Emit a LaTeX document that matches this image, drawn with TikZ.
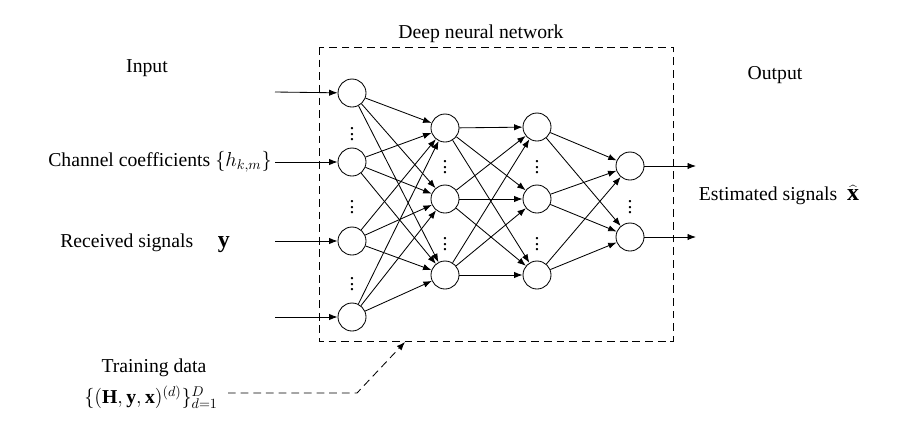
\documentclass[tikz,border=0pt]{standalone}
\usepackage{fontspec}
\setmainfont{Liberation Serif}
\usetikzlibrary{arrows.meta}

\tikzset{
  neuron/.style={circle,draw,minimum size=0.7cm,inner sep=0pt},
  dots/.style={inner sep=0pt},
  link/.style={draw,-{Latex[length=6pt,width=4.5pt]}},
  feed/.style={dash pattern=on 5.5pt off 3.5pt,-{Latex[length=6pt,width=4.5pt]}},
}

\begin{document}
\begin{tikzpicture}[x=0.025cm,y=-0.025cm,line width=0.6pt,
                    every node/.style={font=\fontsize{14}{17}\selectfont}]
    \useasboundingbox (0,0) rectangle (915,423);

    \node (input) at (147,68) {Input};
    \node (title) at (481,34) {Deep neural network};
    \node (output) at (775,75) {Output};
    \node (chan) at (160,162) {Channel coefficients $\{h_{k,m}\}$};
    \node (recv) at (145,243) {Received signals \quad{\fontsize{17}{20}\selectfont$\mathbf{y}$}};
    \node (est) at (779,195) {Estimated signals \ {\fontsize{17}{20}\selectfont$\widehat{\mathbf{x}}$}};
    \node (train) at (154,368) {Training data};
    \node (tset) at (151,397) {$\{(\mathbf{H},\mathbf{y},\mathbf{x})^{(d)}\}_{d=1}^{D}$};

    % network frame
    \draw [dash pattern=on 5.5pt off 3.5pt] (319,47) rectangle (673,341);

\begin{scope}[every node/.style={neuron}]
    \node (a1) at (352,93) {};
    \node (a2) at (352,162) {};
    \node (a3) at (352,241) {};
    \node (a4) at (352,317) {};

    \node (b1) at (445,128) {};
    \node (b2) at (445,199) {};
    \node (b3) at (445,275) {};

    \node (c1) at (537,127) {};
    \node (c2) at (537,199) {};
    \node (c3) at (537,275) {};

    \node (o1) at (630,166) {};
    \node (o2) at (630,237) {};
\end{scope}

    \node [dots] (da1) at (352,130) {$\vdots$};
    \node [dots] (da2) at (352,203) {$\vdots$};
    \node [dots] (da3) at (352,280) {$\vdots$};
    \node [dots] (db1) at (445,163) {$\vdots$};
    \node [dots] (db2) at (445,240) {$\vdots$};
    \node [dots] (dc1) at (537,163) {$\vdots$};
    \node [dots] (dc2) at (537,240) {$\vdots$};
    \node [dots] (do1) at (630,203) {$\vdots$};

    \coordinate (i1) at (275,92);
    \coordinate (i2) at (275,162);
    \coordinate (i3) at (275,241);
    \coordinate (i4) at (275,317);
    \coordinate (e1) at (696,166);
    \coordinate (e2) at (696,237);

\begin{scope}[every edge/.style={link}]
    \path (i1) edge (a1);
    \path (i2) edge (a2);
    \path (i3) edge (a3);
    \path (i4) edge (a4);

    \path (a1) edge (b1);
    \path (a1) edge (b2);
    \path (a1) edge (b3);
    \path (a2) edge (b1);
    \path (a2) edge (b2);
    \path (a2) edge (b3);
    \path (a3) edge (b1);
    \path (a3) edge (b2);
    \path (a3) edge (b3);
    \path (a4) edge (b1);
    \path (a4) edge (b2);
    \path (a4) edge (b3);

    \path (b1) edge (c1);
    \path (b1) edge (c2);
    \path (b1) edge (c3);
    \path (b2) edge (c1);
    \path (b2) edge (c2);
    \path (b2) edge (c3);
    \path (b3) edge (c1);
    \path (b3) edge (c2);
    \path (b3) edge (c3);

    \path (c1) edge (o1);
    \path (c1) edge (o2);
    \path (c2) edge (o1);
    \path (c2) edge (o2);
    \path (c3) edge (o1);
    \path (c3) edge (o2);

    \path (o1) edge (e1);
    \path (o2) edge (e2);
\end{scope}

    % training data into the network
    \coordinate (tfrom) at (228,393);
    \coordinate (tbend) at (357,393);
    \coordinate (tto) at (405,342);
    \draw [feed] (tfrom) -- (tbend) -- (tto);
\end{tikzpicture}
\end{document}
